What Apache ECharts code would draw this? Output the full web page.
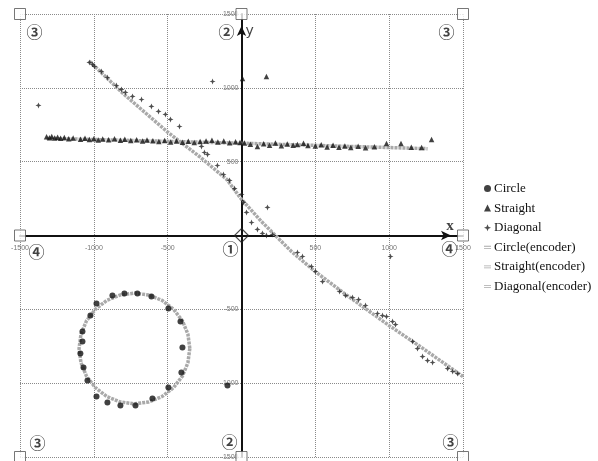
<!DOCTYPE html>
<html>
<head>
<meta charset="utf-8">
<script src="https://cdn.jsdelivr.net/npm/echarts@6/dist/echarts.min.js"></script>
<style>
  html, body { margin: 0; background: #fff; }
  #chart { width: 598px; height: 461px; }
</style>
</head>
<body>
<div id="chart"></div>
<script>
// axis range / ticks
const axisMin = -1500;
const axisMax = 1500;
const tickStep = 500;

const seriesNames = ['Circle', 'Straight', 'Diagonal', 'Circle(encoder)', 'Straight(encoder)', 'Diagonal(encoder)'];

// measured points
const circlePts = [
  [-982, -461], [-874, -407], [-793, -393], [-705, -393], [-610, -413], [-495, -495],
  [-1023, -542], [-1077, -650], [-1077, -718], [-1091, -799], [-1070, -894], [-1043, -982],
  [-982, -1091], [-908, -1131], [-820, -1152], [-718, -1152], [-603, -1104], [-495, -1030],
  [-407, -928], [-400, -759], [-413, -583], [-95, -1016]
];

const straightPts = [
  [-1320, 668], [-1300, 662], [-1285, 670], [-1265, 660], [-1245, 666], [-1225, 658],
  [-1200, 664], [-1170, 655], [-1140, 661], [-1090, 652], [-1060, 658], [-1030, 650],
  [-1000, 656], [-970, 647], [-940, 653], [-900, 649], [-860, 655], [-820, 645],
  [-790, 651], [-750, 643], [-710, 648], [-670, 640], [-640, 646], [-600, 641],
  [-560, 636], [-520, 643], [-480, 634], [-440, 640], [-400, 632], [-360, 638],
  [-320, 630], [-280, 636], [-240, 640], [-200, 645], [-160, 633], [-120, 640],
  [-80, 628], [-40, 635], [-10, 630], [20, 626], [60, 618], [108, 603],
  [150, 622], [190, 612], [230, 626], [270, 608], [310, 620], [350, 612],
  [379, 617], [420, 624], [450, 610], [500, 606], [540, 614], [580, 600],
  [620, 611], [660, 598], [700, 606], [740, 596], [790, 604], [840, 594],
  [900, 601], [982, 623], [1080, 623], [1150, 598], [1220, 596], [1287, 650],
  [7, 1064], [169, 1077]
];

const diagonalPts = [
  [-1030, 1172], [-1009, 1159], [-996, 1145], [-949, 1111], [-908, 1070], [-847, 1016],
  [-813, 989], [-786, 969], [-738, 942], [-677, 921], [-610, 874], [-562, 840],
  [-515, 820], [-481, 786], [-420, 738], [-271, 603], [-251, 562], [-230, 549],
  [-163, 474], [-122, 413], [-81, 373], [-47, 318], [0, 278], [14, 224],
  [34, 156], [68, 88], [108, 41], [142, 14], [169, 0], [210, 7],
  [379, -115], [413, -142], [474, -210], [501, -244], [549, -312], [664, -379],
  [705, -407], [752, -420], [793, -434], [840, -474], [921, -528], [955, -542],
  [982, -549], [1023, -583], [1043, -603], [1159, -718], [1192, -766], [1226, -820],
  [1260, -847], [1294, -860], [1396, -901], [1430, -921], [1463, -935],
  [-1375, 881], [176, 190], [1009, -142], [-196, 1043]
];

// encoder traces
const circleEnc = [
  [-350, -765], [-363, -668], [-400, -578], [-460, -500], [-537, -440], [-628, -403],
  [-725, -390], [-822, -403], [-913, -440], [-990, -500], [-1050, -578], [-1087, -668],
  [-1100, -765], [-1087, -862], [-1050, -952], [-990, -1030], [-913, -1090], [-822, -1127],
  [-725, -1140], [-628, -1127], [-537, -1090], [-460, -1030], [-400, -952], [-363, -862],
  [-350, -765]
];

const straightEnc = [[-1320, 658], [0, 625], [1260, 588]];

const diagonalEnc = [
  [-1030, 1180], [-800, 960], [-500, 700], [-285, 535], [-100, 380], [0, 245],
  [135, 95], [225, 5], [340, -110], [500, -245], [700, -395], [1000, -610],
  [1200, -745], [1350, -850], [1500, -955]
];

// frame boxes and zone numbers
const boxPts = [[-1500, 1500], [0, 1500], [1500, 1500], [-1500, 0], [1500, 0], [-1500, -1500], [0, -1500], [1500, -1500]];
const zoneLabels = [
  ['③', -1402, 1376], ['②', -102, 1382], ['③', 1389, 1382],
  ['④', -1389, -108], ['①', -75, -92], ['④', 1409, -92],
  ['③', -1382, -1405], ['②', -81, -1400], ['③', 1416, -1396]
];

const chart = echarts.init(document.getElementById('chart'));

const starPath = 'path://M0,-5L1.4,-1.4L5,0L1.4,1.4L0,5L-1.4,1.4L-5,0L-1.4,-1.4Z';
const encIcon = 'path://M0,0H10V1.2H0ZM0,3H10V4.2H0Z';

// half of the square plot (443px) so the axes sit on zero
const halfPlot = 221.5;

const axisCommon = {
  type: 'value',
  min: axisMin,
  max: axisMax,
  interval: tickStep,
  axisLine: {
    onZero: false,
    lineStyle: { color: '#111', width: 2 },
    symbol: ['none', 'arrow'],
    symbolSize: [7, 10],
    symbolOffset: [0, -12]
  },
  axisTick: { show: false },
  axisLabel: {
    fontSize: 7,
    color: '#777',
    formatter: v => (v === 0 ? '' : String(v))
  },
  splitLine: { show: true, lineStyle: { color: '#8a8a8a', type: 'dotted', width: 1 } }
};

const encLine = (name, data) => ({
  name,
  type: 'line',
  data,
  showSymbol: false,
  silent: true,
  z: 1,
  color: '#a9a9a9',
  lineStyle: { color: '#a9a9a9', width: 3.5, type: [3, 1] }
});

chart.setOption({
  animation: false,
  backgroundColor: '#fff',
  grid: { left: 20, right: 135, top: 14, bottom: 4 },
  xAxis: Object.assign({}, axisCommon, {
    offset: -halfPlot,
    axisLabel: Object.assign({}, axisCommon.axisLabel, { margin: 9 })
  }),
  yAxis: Object.assign({}, axisCommon, {
    offset: -halfPlot,
    axisLabel: Object.assign({}, axisCommon.axisLabel, { margin: 3 })
  }),
  legend: {
    orient: 'vertical',
    left: 479,
    top: 177,
    itemGap: 6.6,
    itemWidth: 7,
    itemHeight: 7,
    textStyle: { fontFamily: 'Liberation Serif', fontSize: 13, color: '#111', padding: [0, 0, 0, -2] },
    data: [
      { name: seriesNames[0], icon: 'circle' },
      { name: seriesNames[1], icon: 'triangle' },
      { name: seriesNames[2], icon: starPath },
      { name: seriesNames[3], icon: encIcon },
      { name: seriesNames[4], icon: encIcon },
      { name: seriesNames[5], icon: encIcon }
    ]
  },
  series: [
    encLine(seriesNames[3], circleEnc),
    encLine(seriesNames[4], straightEnc),
    encLine(seriesNames[5], diagonalEnc),
    {
      name: seriesNames[0], type: 'scatter', data: circlePts, z: 3,
      symbol: 'circle', symbolSize: 6, itemStyle: { color: '#111' }
    },
    {
      name: seriesNames[1], type: 'scatter', data: straightPts, z: 3,
      symbol: 'triangle', symbolSize: 5.5, itemStyle: { color: '#111' }
    },
    {
      name: seriesNames[2], type: 'scatter', data: diagonalPts, z: 3,
      symbol: starPath, symbolSize: 6, itemStyle: { color: '#222' }
    },
    {
      name: 'frame', type: 'scatter', silent: true, z: 4,
      data: boxPts, symbol: 'rect', symbolSize: 11,
      itemStyle: { color: '#fff', borderColor: '#555', borderWidth: 1 }
    },
    {
      name: 'origin', type: 'scatter', silent: true, z: 4,
      data: [[0, 0]], symbol: 'diamond', symbolSize: 14,
      itemStyle: { color: 'rgba(255,255,255,0)', borderColor: '#222', borderWidth: 1.2 }
    },
    {
      name: 'zones', type: 'scatter', silent: true, z: 5,
      data: zoneLabels.map(d => ({ value: [d[1], d[2]], name: d[0] })),
      symbolSize: 0,
      label: {
        show: true, position: 'inside', formatter: p => p.name,
        fontFamily: 'Noto Sans CJK SC', fontWeight: 'bold', fontSize: 16, color: '#111'
      }
    },
    {
      name: 'axisNames', type: 'scatter', silent: true, z: 5,
      data: [
        { value: [55, 1382], name: 'y', label: { fontFamily: 'DejaVu Sans', fontSize: 14 } },
        { value: [1412, 62], name: 'x', label: { fontFamily: 'Liberation Serif', fontWeight: 'bold', fontSize: 15 } }
      ],
      symbolSize: 0,
      label: {
        show: true, position: 'inside', formatter: p => p.name, color: '#111'
      }
    }
  ]
});
</script>
</body>
</html>
